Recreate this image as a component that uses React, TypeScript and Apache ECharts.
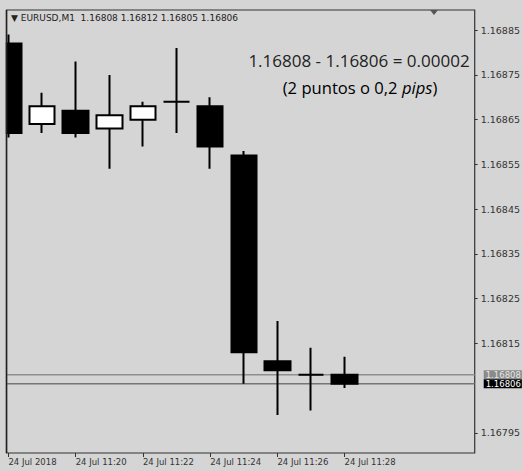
import React, { useEffect, useRef } from 'react';
import * as echarts from 'echarts';

// Candle times (M1), index = x position
const times = ['11:18', '11:19', '11:20', '11:21', '11:22', '11:23', '11:24', '11:25', '11:26', '11:27', '11:28'];
const opens = [1.16882, 1.16864, 1.16867, 1.16863, 1.16865, 1.16869, 1.16868, 1.16857, 1.16811, 1.16808, 1.16808];
const closes = [1.16862, 1.16868, 1.16862, 1.16866, 1.16868, 1.16869, 1.16859, 1.16813, 1.16809, 1.16808, 1.16806];
const lows = [1.16861, 1.16862, 1.16861, 1.16854, 1.16859, 1.16862, 1.16854, 1.16806, 1.16799, 1.16800, 1.16805];
const highs = [1.16884, 1.16871, 1.16878, 1.16875, 1.16869, 1.16881, 1.16870, 1.16858, 1.16820, 1.16814, 1.16812];

const xTickIndex = [0, 2, 4, 6, 8, 10];
const xTickLabels = ['24 Jul 2018', '24 Jul 11:20', '24 Jul 11:22', '24 Jul 11:24', '24 Jul 11:26', '24 Jul 11:28'];
const yTickValues = [1.16795, 1.16815, 1.16825, 1.16835, 1.16845, 1.16855, 1.16865, 1.16875, 1.16885];
const priceLines = [1.16808, 1.16806];
const headerText = '▼ EURUSD,M1  1.16808 1.16812 1.16805 1.16806';

const X_MIN = -0.058;
const X_MAX = 13.87;

export default function App() {
  const ref = useRef<HTMLDivElement>(null);
  useEffect(() => {
    if (!ref.current) return;
    const chart = echarts.init(ref.current, null, { renderer: 'svg' });
    const data = times.map((_, i) => [i, opens[i], closes[i], lows[i], highs[i]]);
    const bg = '#d5d5d5';
    const lineColors = ['#8e8e8e', '#767676'];
    const tagBg = ['#8a8a8a', '#000000'];
    const tagFg = ['#e6e6e6', '#ffffff'];
    chart.setOption({
      animation: false,
      backgroundColor: bg,
      grid: {
        left: 6.5, top: 10, right: 39.5, bottom: 18,
        show: true, borderColor: '#333', borderWidth: 1.2, backgroundColor: bg,
      },
      xAxis: {
        type: 'value',
        min: X_MIN,
        max: X_MAX,
        axisLine: { show: false, onZero: false },
        splitLine: { show: false },
        axisTick: {
          show: true, customValues: xTickIndex, length: 4, inside: false,
          lineStyle: { color: '#333', width: 1 },
        },
        axisLabel: {
          customValues: xTickIndex,
          formatter: (v: number) => {
            const k = xTickIndex.indexOf(Math.round(v));
            return k >= 0 ? xTickLabels[k] : '';
          },
          align: 'left',
          margin: 4,
          fontSize: 8.5,
          fontFamily: 'DejaVu Sans',
          color: '#333',
        },
      },
      yAxis: {
        type: 'value',
        position: 'right',
        min: 1.167905,
        max: 1.168895,
        axisLine: { show: false, onZero: false },
        splitLine: { show: false },
        axisTick: {
          show: true, customValues: yTickValues, length: 3, inside: false,
          lineStyle: { color: '#333', width: 1 },
        },
        axisLabel: {
          customValues: yTickValues,
          formatter: (v: number) => v.toFixed(5),
          margin: 6,
          fontSize: 9.5,
          fontFamily: 'DejaVu Sans',
          color: '#333',
        },
      },
      series: [
        ...priceLines.map((p, k) => ({
          type: 'line',
          data: [[X_MIN, p], [X_MAX, p]],
          showSymbol: false,
          silent: true,
          z: 1,
          lineStyle: { color: lineColors[k], width: 1.5 },
          endLabel: {
            show: true,
            distance: 1,
            align: 'left',
            offset: [8, 0],
            formatter: p.toFixed(5),
            backgroundColor: tagBg[k],
            color: tagFg[k],
            fontSize: 8.5,
            lineHeight: 9,
            fontFamily: 'DejaVu Sans',
            padding: [0, 1, 0, 2],
          },
        })),
        {
          type: 'candlestick',
          data,
          barWidth: 26,
          z: 3,
          encode: { x: 0, y: [1, 2, 3, 4] },
          itemStyle: {
            color: '#ffffff',
            color0: '#000000',
            borderColor: '#000000',
            borderColor0: '#000000',
            borderWidth: 2,
          },
        },
      ],
      graphic: [
        {
          type: 'rect', z: 50,
          shape: { x: 0, y: 0, width: 5.8, height: 471 },
          style: { fill: bg },
        },
        {
          type: 'line', z: 55,
          shape: { x1: 6.5, y1: 10, x2: 6.5, y2: 453 },
          style: { stroke: '#222', lineWidth: 1.6 },
        },
        {
          type: 'text', left: 11, top: 13, z: 60,
          style: { text: headerText, fontSize: 9, fontFamily: 'DejaVu Sans', fill: '#222' },
        },
        {
          type: 'polygon', z: 60,
          shape: { points: [[430, 10], [438, 10], [434, 15]] },
          style: { fill: '#555' },
        },
        {
          type: 'text', x: 359, y: 60, z: 60,
          style: {
            text: '1.16808 - 1.16806 = 0.00002',
            fontSize: 17, fontFamily: 'Open Sans', fill: '#222',
            align: 'center', verticalAlign: 'middle',
          },
        },
        {
          type: 'text', x: 360, y: 87, z: 60,
          style: {
            text: '{a|(2 puntos o 0,2 }{i|pips}{a|)}',
            align: 'center', verticalAlign: 'middle',
            rich: {
              a: { fontSize: 16.6, fontFamily: 'Open Sans', color: '#222' },
              i: { fontSize: 16.6, fontFamily: 'Open Sans', fontStyle: 'italic', color: '#222' },
            },
          },
        },
      ],
    });
    return () => chart.dispose();
  }, []);
  return (
    <div
      ref={ref}
      style={{ position: 'fixed', left: 0, top: 0, width: 523, height: 471 }}
    />
  );
}
